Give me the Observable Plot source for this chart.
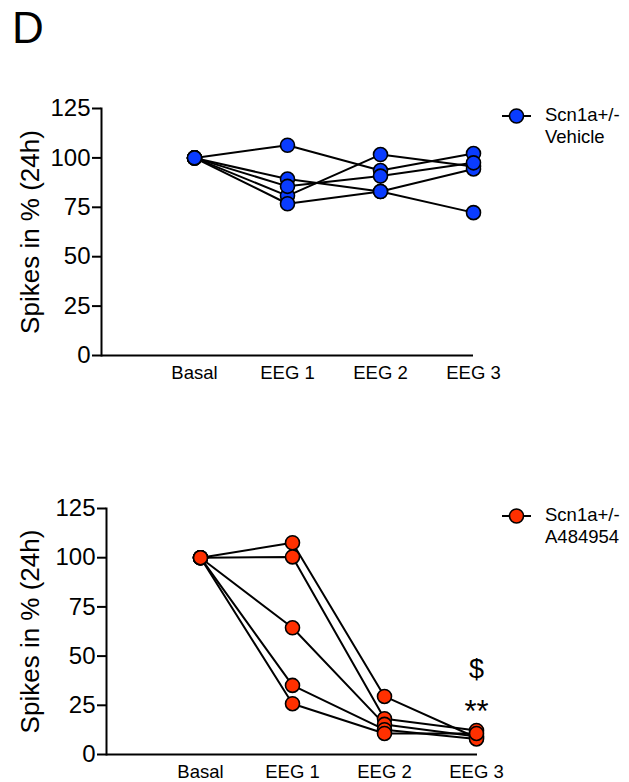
<!DOCTYPE html>
<html>
<head>
<meta charset="utf-8">
<script src="https://cdn.jsdelivr.net/npm/d3@7"></script>
<script src="https://cdn.jsdelivr.net/npm/@observablehq/plot@0.6"></script>
<style>
  body { margin: 0; background: #fff; font-family: "Liberation Sans", Arial, Helvetica, sans-serif; }
  #fig { position: relative; width: 629px; height: 782px; overflow: hidden; background: #fff; }
  #panel { position: absolute; left: 12px; top: 2px; font-size: 44px; line-height: 52px; color: #000; }
  .chart { position: absolute; left: 0; }
  .legend { position: absolute; display: flex; align-items: flex-start; color: #000; }
  .legend svg { margin-top: 3px; }
  .legend .lab { margin-left: 14px; font-size: 18.5px; line-height: 21.5px; }
</style>
</head>
<body>
<div id="fig">
  <div id="panel">D</div>
  <div class="chart" id="top" style="top:80px"></div>
  <div class="chart" id="bottom" style="top:480px"></div>
  <div class="legend" id="legTop" style="left:502px; top:104px"></div>
  <div class="legend" id="legBottom" style="left:502px; top:504px"></div>
</div>
<script>
// Recording sessions along the x axis
const sessions = ["Basal", "EEG 1", "EEG 2", "EEG 3"];

// Spike counts (% of basal, 24 h) per mouse, one array per animal
const vehicleSpikes = [
  [100, 106.4, 93.6, 102.2],
  [100, 89.3, 83.0, 72.3],
  [100, 80.8, 101.7, 95.7],
  [100, 76.8, 83.0, 94.4],
  [100, 85.6, 90.8, 97.5]
];
const drugSpikes = [
  [100, 107.6, 29.5, 8.5],
  [100, 100.4, 18.2, 12.2],
  [100, 64.4, 15.3, 9.2],
  [100, 35.1, 12.6, 7.9],
  [100, 25.8, 10.7, 10.7]
];

const yTicks = [0, 25, 50, 75, 100, 125];
const groupNames = ["Vehicle", "A484954"];
const genotype = "Scn1a+/-";
const groupColors = ["#0a3cff", "#ff3000"];
// Significance marks above the last session of the treated group
const drugMarks = ["$", "**"];

const font = '"Liberation Sans", Arial, Helvetica, sans-serif';

function toRows(spikes) {
  return spikes.flatMap((values, animal) =>
    values.map((value, i) => ({animal, session: sessions[i], value})));
}

function panel({spikes, color, xRange, marginLeft, marginRight, height, marginBottom, extra = []}) {
  const rows = toRows(spikes);
  return Plot.plot({
    width: 629,
    height,
    marginLeft,
    marginRight,
    marginTop: 28,
    marginBottom,
    style: {fontFamily: font, color: "#000", background: "transparent", overflow: "visible"},
    x: {type: "point", domain: sessions, range: xRange, padding: 0, axis: null},
    y: {domain: [0, 125], axis: null},
    marks: [
      Plot.axisX({tickSize: 0, tickPadding: 10, fontSize: 18.5, label: null}),
      Plot.axisY({ticks: yTicks, tickSize: 9, tickPadding: 2, fontSize: 24, label: null, strokeWidth: 2}),
      Plot.frame({anchor: "left", strokeWidth: 2}),
      Plot.ruleY([0], {strokeWidth: 2}),
      Plot.text([0], {
        frameAnchor: "left", textAnchor: "middle", text: () => "Spikes in % (24h)", rotate: -90,
        dx: -(marginLeft - 30), fontSize: 26
      }),
      Plot.line(rows, {x: "session", y: "value", z: "animal", stroke: "#000", strokeWidth: 2}),
      Plot.dot(rows, {x: "session", y: "value", r: 7, fill: color, stroke: "#000", strokeWidth: 1.6}),
      ...extra
    ]
  });
}

const topChart = panel({
  spikes: vehicleSpikes, color: groupColors[0],
  xRange: [194, 473], marginLeft: 101, marginRight: 156, height: 310, marginBottom: 35
});
document.getElementById("top").append(topChart);

const lastDrug = drugSpikes.map(d => d[3]);
const lastMax = d3.max(lastDrug);
const bottomChart = panel({
  spikes: drugSpikes, color: groupColors[1],
  xRange: [199, 477], marginLeft: 106, marginRight: 152, height: 302, marginBottom: 28,
  extra: [
    Plot.text([drugMarks[0]], {x: () => sessions[3], y: () => lastMax, text: d => d, dy: -61, fontSize: 27}),
    Plot.text([drugMarks[1]], {x: () => sessions[3], y: () => lastMax, text: d => d, dy: -18, fontSize: 31})
  ]
});
document.getElementById("bottom").append(bottomChart);

function legend(id, color, name) {
  const el = document.getElementById(id);
  const svg = d3.create("svg").attr("width", 29).attr("height", 18);
  svg.append("line").attr("x1", 0).attr("x2", 29).attr("y1", 9).attr("y2", 9)
    .attr("stroke", "#000").attr("stroke-width", 2);
  svg.append("circle").attr("cx", 14.5).attr("cy", 9).attr("r", 7)
    .attr("fill", color).attr("stroke", "#000").attr("stroke-width", 1.6);
  el.append(svg.node());
  const lab = document.createElement("div");
  lab.className = "lab";
  lab.innerHTML = genotype + "<br>" + name;
  el.append(lab);
}
legend("legTop", groupColors[0], groupNames[0]);
legend("legBottom", groupColors[1], groupNames[1]);
</script>
</body>
</html>
